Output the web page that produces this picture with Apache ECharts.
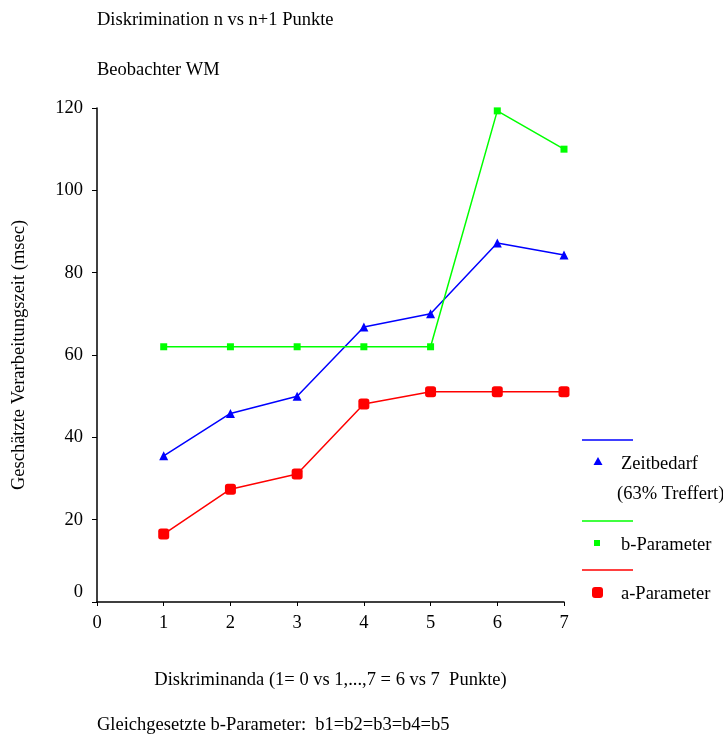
<!DOCTYPE html>
<html>
<head>
<meta charset="utf-8">
<script src="https://cdn.jsdelivr.net/npm/echarts@6/dist/echarts.min.js"></script>
<style>
  html, body { margin: 0; padding: 0; background: #fff; }
  #chart { width: 723px; height: 740px; }
</style>
</head>
<body>
<div id="chart"></div>
<script>
// Diskriminanda 1..7
const diskriminanda = [1, 2, 3, 4, 5, 6, 7];
// Zeitbedarf (63% Treffert), msec
const zeitbedarf = [35.5, 45.8, 50, 66.8, 70, 87.2, 84.3];
// b-Parameter (b1=b2=b3=b4=b5)
const bParameter = [62, 62, 62, 62, 62, 119.3, 110];
// a-Parameter
const aParameter = [16.5, 27.4, 31.1, 48.1, 51.1, 51.1, 51.1];
const yTicks = [0, 20, 40, 60, 80, 100, 120];
const xTicks = [0, 1, 2, 3, 4, 5, 6, 7];

const FONT = 'Liberation Serif';
const txt = { fontFamily: FONT, fontSize: 18.5, color: '#000' };

function pairs(vals) {
  return diskriminanda.map((x, i) => [x, vals[i]]);
}

const chart = echarts.init(document.getElementById('chart'), null, { renderer: 'canvas' });

// Legend block: line sample above, marker + label below
function legendEntry(y, color, symbol, lines) {
  const items = [
    { type: 'line', shape: { x1: 582, y1: y, x2: 633, y2: y }, style: { stroke: color, lineWidth: 1.5 } }
  ];
  let shape;
  if (symbol === 'triangle') {
    shape = { type: 'polygon', shape: { points: [[598, y + 17], [602.5, y + 25], [593.5, y + 25]] }, style: { fill: color } };
  } else if (symbol === 'rect') {
    shape = { type: 'rect', shape: { x: 594, y: y + 19, width: 6, height: 6 }, style: { fill: color } };
  } else {
    shape = { type: 'rect', shape: { x: 592, y: y + 17, width: 11, height: 11, r: 3 }, style: { fill: color } };
  }
  items.push(shape);
  lines.forEach((t, k) => {
    items.push({ type: 'text', style: Object.assign({}, txt, { text: t, x: k === 0 ? 621 : 617, y: y + 24 + k * 30, textVerticalAlign: 'middle' }) });
  });
  return items;
}

const option = {
  animation: false,
  backgroundColor: '#fff',
  grid: { left: 97, right: 159, top: 108, bottom: 138 },
  xAxis: {
    type: 'value', min: 0, max: 7, interval: 1,
    axisLine: { onZero: false, lineStyle: { color: '#000', width: 1.5 } },
    axisTick: { show: true, length: 4, lineStyle: { color: '#000' } },
    axisLabel: Object.assign({ margin: 12 }, txt),
    splitLine: { show: false },
    name: 'Diskriminanda (1= 0 vs 1,...,7 = 6 vs 7  Punkte)',
    nameLocation: 'middle', nameGap: 69,
    nameTextStyle: Object.assign({}, txt)
  },
  yAxis: {
    type: 'value', min: 0, max: 120, interval: 20,
    axisLine: { show: true, onZero: false, lineStyle: { color: '#000', width: 1.5 } },
    axisTick: { show: true, length: 5, lineStyle: { color: '#000' } },
    axisLabel: Object.assign({
      margin: 14,
      formatter: v => v === 0 ? '{z|0}' : String(v),
      rich: { z: Object.assign({ padding: [0, 0, 20, 0] }, txt) }
    }, txt),
    splitLine: { show: false },
    name: 'Geschätzte Verarbeitungszeit (msec)',
    nameLocation: 'middle', nameGap: 68, nameRotate: 90,
    nameTextStyle: Object.assign({}, txt)
  },
  series: [
    {
      name: 'Zeitbedarf', type: 'line', data: pairs(zeitbedarf),
      symbol: 'triangle', symbolSize: 9,
      lineStyle: { color: '#0000ff', width: 1.5 }, itemStyle: { color: '#0000ff' }
    },
    {
      name: 'b-Parameter', type: 'line', data: pairs(bParameter),
      symbol: 'rect', symbolSize: 7,
      lineStyle: { color: '#00ff00', width: 1.5 }, itemStyle: { color: '#00ff00' }
    },
    {
      name: 'a-Parameter', type: 'line', data: pairs(aParameter),
      symbol: 'roundRect', symbolSize: 11,
      lineStyle: { color: '#ff0000', width: 1.5 }, itemStyle: { color: '#ff0000' }
    }
  ],
  graphic: [
    { type: 'text', style: Object.assign({}, txt, { text: 'Diskrimination n vs n+1 Punkte', x: 97, y: 20, textVerticalAlign: 'middle' }) },
    { type: 'text', style: Object.assign({}, txt, { text: 'Beobachter WM', x: 97, y: 70, textVerticalAlign: 'middle' }) },
    { type: 'text', style: Object.assign({}, txt, { text: 'Gleichgesetzte b-Parameter:  b1=b2=b3=b4=b5', x: 97, y: 725, textVerticalAlign: 'middle' }) }
  ]
    .concat(legendEntry(440, '#0000ff', 'triangle', ['Zeitbedarf', '(63% Treffert)']))
    .concat(legendEntry(521, '#00ff00', 'rect', ['b-Parameter']))
    .concat(legendEntry(570, '#ff0000', 'roundRect', ['a-Parameter']))
};

chart.setOption(option);
</script>
</body>
</html>
